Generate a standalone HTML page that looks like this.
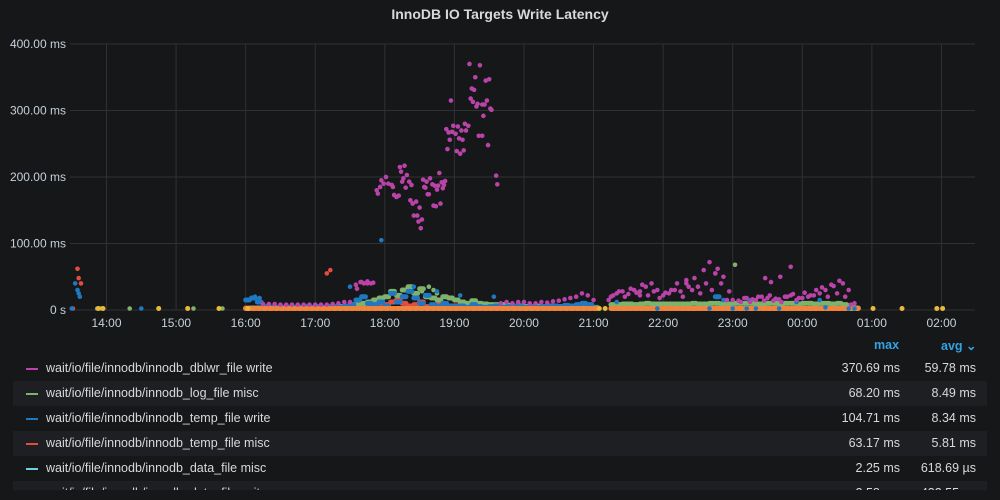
<!DOCTYPE html>
<html><head><meta charset="utf-8"><style>
body{margin:0;background:#161719;width:1000px;height:500px;overflow:hidden;font-family:"Liberation Sans",sans-serif;color:#d8d9da}
#title{position:absolute;top:6px;left:0;width:1000px;text-align:center;font-size:14px;font-weight:bold;color:#d8d9da}
svg{position:absolute;left:0;top:0}
#legend{position:absolute;left:0;top:0;width:1000px;height:490px;overflow:hidden}
.row{position:absolute;left:13px;width:974px;height:25px;font-size:12.5px;line-height:25px}
.row.alt{background:#1e1f23}
.sw{position:absolute;left:13px;top:12px;width:12px;height:2px}
.nm{position:absolute;left:33px}
.mx{position:absolute;right:87px}
.av{position:absolute;right:11px}
.hd{position:absolute;top:338px;font-size:12.5px;font-weight:bold;color:#33a2e5}
</style></head><body>
<div id="title">InnoDB IO Targets Write Latency</div>
<svg id="chart" width="1000" height="360"></svg>
<div class="hd" style="left:874px">max</div>
<div class="hd" style="left:941px">avg ⌄</div>
<div id="legend"></div>
<script>
// ---- data (minutes since 13:00) ----
const startMin = 180, stepMin = 5;
const dblwrVals = [null,null,null,9,9,9,8,8,8,8,8,8, 8,8,8,9,10,12,12,38,42,40,41,null,
 null,null,null,null,null,null,null,null,null,null,null,null, null,null,null,null,null,null,null,null,10,12,10,12,
 12,10,10,12,11,13,14,16,18,20,25,22, 15,null,null,20,25,28,24,30,28,35,40,30,
 22,25,30,28,45,30,35,60,72,55,40,15, 15,14,18,12,15,20,18,14,16,20,22,15, 18,20,22,25,30,38,25,40,30,10];
const dblwrPeakMin = [373,382,378,387,390,375,377,357,374,376,379,380,384,386,388,391,392,385,353,355,359,363,358,361,366,370,369,372,364,367,356,354,362,365,368,381,384,389,396,397,
 293,294,297,301,296,299,303,306,307,308,310,312,313,317,314,319,316,315,321,323,318,322,324,327,330,325,328,332,329,331,333,336,339,334,335,337,338,347,341,343,345,346,349,352,351,350,342,344,348,
 276,279,282,285,288,520,560,585,628,633,641,650,
 493,497,502,507,512,517,522,527,532,537,542,547,552,557,562,567,572,577,582,587,592,597,607,612,617,622,627,632,637,642,647,652,657,662,667,672,677,682,687,692,697,702];
const dblwrPeakVal = [370,368,350,345,347,333,331,315,318,313,306,310,309,309,315,303,301,292,272,267,277,276,268,265,270,270,280,277,258,256,256,242,239,235,240,262,262,248,202,189,
 180,175,195,200,185,190,190,188,185,173,170,172,215,217,208,203,198,193,193,188,184,165,160,163,154,142,142,136,133,123,196,193,198,185,184,174,174,206,189,187,181,187,192,194,188,183,157,156,160,
 32,42,40,43,40,22,40,55,48,42,50,65,
 15,22,28,20,32,26,38,22,28,18,26,30,40,20,35,48,25,40,30,62,50,28,12,18,16,20,14,22,17,12,20,24,18,26,22,30,34,20,36,44,20,8];
const logVals = [2,3,3,3,3,3,3,3,3,3,3,3, 3,3,4,4,5,6,8,8,10,12,15,18, 20,28,22,30,35,25,32,20,18,15,20,18,
 15,12,10,14,10,9,8,8,8,7,6,6, 5,5,5,5,5,5,5,5,6,6,6,6, 4,null,null,8,8,9,9,8,9,10,9,9,
 9,9,9,9,9,10,9,9,10,10,9,9, 10,10,10,10,9,9,10,10,9,10,10,9, 10,10,9,10,10,9,10,8,5,3];
const logExtraMin = [52,55,57,80,105,130,135,157,160,342,338,345,332,602,721,746,776,781];
const logExtraVal = [2,2,2,2,2,2,2,2,2,30,35,25,28,68,2,2,2,2];
const tempWVals = [15,18,12,5,4,4,4,4,4,4,5,4, 5,4,5,5,4,6,8,15,20,10,8,12, 6,25,12,20,28,18,10,22,8,5,10,6,
 5,6,4,8,5,4,5,6,4,5,6,5, 4,5,4,5,5,6,5,7,6,8,10,8, 3,null,null,null,null,null,null,null,null,null,null,null,
 null,null,null,null,null,null,null,null,null,20,null,null, null,null,null,null,null,null,null,null,null,null,null,null, null,null,null,null,null,null,null,null,null,null];
const tempWExtraMin = [33,35,36,37,30,90,297,270,325,345,365,394,592,614,675,188,192,500,535,580,600,612,620,640,655,680,700,705];
const tempWExtraVal = [40,30,25,20,1,1,105,35,35,28,22,20,15,15,15,20,18,12,1,2,1,1,2,1,12,4,1,1];
const tempMVals = [3,3,3,4,4,4,4,4,4,4,4,4, 4,4,4,5,5,5,5,5,6,5,8,10, 8,12,15,10,6,8,12,5,6,8,5,6,
 6,5,5,6,6,5,5,6,5,5,6,5, 5,5,6,5,6,6,5,6,5,6,5,5, 3,null,null,2,2,2,2,2,2,2,2,2,
 2,2,2,2,2,2,2,2,2,2,2,2, 2,2,2,2,2,2,2,2,2,2,2,2, 2,2,2,2,2,2,2,2,2,2];
const tempMExtraMin = [35,36,38,250,253,31];
const tempMExtraVal = [62,48,40,55,60,1];
const orangeVals = [1,1,1,1,1,1,1,1,1,1,1,1, 1,1,1,1,1,1,1,1,1,1,1,1, 1,2,1,1,2,1,1,1,1,2,1,1,
 1,1,1,1,1,1,1,1,1,1,1,1, 1,1,1,1,1,1,1,1,1,1,1,1, 1,null,null,1,1,1,1,1,1,1,1,1,
 1,1,1,1,1,1,1,1,1,1,1,1, 1,1,1,1,1,1,1,1,1,1,1,1, 1,1,1,1,1,1,1,1,1,1];
const yellowMin = [53,57,105,130,157,182,485,490,721,746,776,781];
const yellowVal = [0,0,0,0,0,0,0,0,0,0,0,0];
const yTicks = [0,100,200,300,400];
const yTickLabels = ["0 s","100.00 ms","200.00 ms","300.00 ms","400.00 ms"];
const xTickMin = [60,120,180,240,300,360,420,480,540,600,660,720,780];
const xTickLabels = ["14:00","15:00","16:00","17:00","18:00","19:00","20:00","21:00","22:00","23:00","00:00","01:00","02:00"];
const legendNames = ["wait/io/file/innodb/innodb_dblwr_file write","wait/io/file/innodb/innodb_log_file misc","wait/io/file/innodb/innodb_temp_file write","wait/io/file/innodb/innodb_temp_file misc","wait/io/file/innodb/innodb_data_file misc","wait/io/file/innodb/innodb_data_file write"];
const legendMax = ["370.69 ms","68.20 ms","104.71 ms","63.17 ms","2.25 ms","2.58 ms"];
const legendAvg = ["59.78 ms","8.49 ms","8.34 ms","5.81 ms","618.69 µs","432.55 µs"];
const legendColors = ["#BA43A9","#7EB26D","#1F78C1","#E24D42","#6ED0E0","#EF843C"];

// ---- axes ----
const L=70,R=975,T=44,B=310;
const x = m => 106.5 + (m-60)*69.58/60;
const y = v => B - v*(B-T)/400;
const NS="http://www.w3.org/2000/svg";
const svg=document.getElementById('chart');
function mk(tag,attrs){const e=document.createElementNS(NS,tag);for(const k in attrs)e.setAttribute(k,attrs[k]);svg.appendChild(e);return e;}
yTicks.forEach((t,i)=>{
  const g=mk('line',{x1:L,x2:R,y1:y(t),y2:y(t),stroke:'#303134','stroke-width':1});
  
  
  const tx=mk('text',{x:66,y:y(t)+4,'text-anchor':'end',fill:'#c7d0d9','font-size':12});
  tx.textContent=yTickLabels[i];
  
  
});
xTickMin.forEach((t,i)=>{
  const g=mk('line',{x1:x(t),x2:x(t),y1:T,y2:B,stroke:'#303134','stroke-width':1});
  
  
  const tx=mk('text',{x:x(t),y:327,'text-anchor':'middle',fill:'#c7d0d9','font-size':12});
  tx.textContent=xTickLabels[i];
  
  
});
function dot(m,v,c,r,name){
  if(v===null||v===undefined)return;
  const d=mk('circle',{cx:x(m),cy:Math.min(y(v),B-1.5),r:r,fill:c});
  
  
}
function cap(m,v,c,name){
  if(v===null||v===undefined)return;
  const w=x(m+stepMin)-x(m)+1, cy=Math.min(y(v),B-1.5);
  const d=mk('rect',{x:x(m)-2.5,y:cy-2.5,width:w+2,height:5,rx:2.5,fill:c});
  
  
}
function reg(vals,c,name){vals.forEach((v,i)=>cap(startMin+i*stepMin,v,c,name));}
function regDots(vals,c,name){vals.forEach((v,i)=>dot(startMin+i*stepMin,v,c,2.3,name));}
function pts(ms,vs,c,r,name){ms.forEach((m,i)=>dot(m,vs[i],c,r,name));}
reg(tempMVals,'#E24D42','point-temp-file-misc');
pts(tempMExtraMin,tempMExtraVal,'#E24D42',2.3,'point-temp-file-misc');
reg(logVals,'#7EB26D','point-log-file-misc');
pts(logExtraMin,logExtraVal,'#7EB26D',2.3,'point-log-file-misc');
reg(tempWVals,'#1F78C1','point-temp-file-write');
reg(orangeVals,'#EF843C','point-data-file-write');
pts(tempWExtraMin,tempWExtraVal,'#1F78C1',2.3,'point-temp-file-write');
pts(yellowMin,yellowVal,'#EAB839',2.5,'point-yellow-series');
regDots(dblwrVals,'#BA43A9','point-dblwr-file-write');
pts(dblwrPeakMin,dblwrPeakVal,'#BA43A9',2.3,'point-dblwr-file-write');

// ---- legend ----
const lg=document.getElementById('legend');
legendNames.forEach((n,i)=>{
  const r=document.createElement('div');
  r.className='row'+(i%2?' alt':'');
  r.style.top=(356+i*25)+'px';
  
  
  r.innerHTML='<span class="sw" style="background:'+legendColors[i]+'"></span><span class="nm">'+n+'</span><span class="mx">'+legendMax[i]+'</span><span class="av">'+legendAvg[i]+'</span>';
  lg.appendChild(r);
});
</script>
</body></html>
